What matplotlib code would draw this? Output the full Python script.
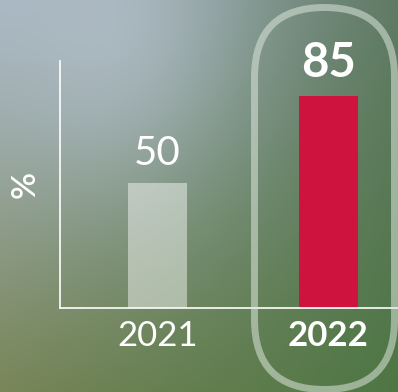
import numpy as np
import matplotlib
matplotlib.use("Agg")
import matplotlib.pyplot as plt
from matplotlib.patches import FancyBboxPatch

plt.rcParams['font.family'] = ['Lato', 'DejaVu Sans']

# data
years = ["2021", "2022"]
values = [50, 85]
bar_colors = [(1, 1, 1, 0.45), "#cf133f"]

fig = plt.figure(figsize=(3.98, 3.92), dpi=100)

# background gradient (grey-blue top left -> green bottom right)
yy, xx = np.mgrid[0:1:392j, 0:1:398j]
tl = np.array([165, 180, 193])
tr = np.array([96, 122, 100])
bl = np.array([120, 134, 88])
br = np.array([78, 118, 68])
img = (tl * ((1 - xx) * (1 - yy))[..., None] + tr * (xx * (1 - yy))[..., None]
       + bl * ((1 - xx) * yy)[..., None] + br * (xx * yy)[..., None])
glow = np.exp(-(((xx - 0.27) / 0.33) ** 2 + ((yy - 0.08) / 0.4) ** 2))
img = img + glow[..., None] * (np.array([182, 194, 206]) - img) * 0.7
bg = fig.add_axes([0, 0, 1, 1], zorder=-10)
bg.imshow(img / 255, aspect="auto", extent=[0, 1, 0, 1])
bg.axis("off")

# pill around 2022
pill = FancyBboxPatch((2.545, 0.025), 1.40, 3.82,
                      boxstyle="round,pad=0,rounding_size=0.70",
                      transform=fig.dpi_scale_trans, fill=False,
                      edgecolor=(0.86, 0.9, 0.86, 0.55), linewidth=5.0)
fig.patches.append(pill)

ax = fig.add_axes([60 / 398, 84 / 392, 338 / 398, 247 / 392])
ax.patch.set_alpha(0)
x = np.arange(len(years))
bars = ax.bar(x, values, width=0.35, color=bar_colors)
ax.set_xlim(-0.570, 1.406)
ax.set_ylim(0, 99)

for spine in ["top", "right"]:
    ax.spines[spine].set_visible(False)
for spine in ["left", "bottom"]:
    ax.spines[spine].set_color("white")
    ax.spines[spine].set_linewidth(1.2)

ax.set_yticks([])
ax.set_xticks(x)
ax.set_xticklabels(years, color="white", fontsize=25)
ax.get_xticklabels()[1].set_fontweight("bold")
ax.tick_params(axis="x", length=0, pad=9)

ax.set_ylabel("%", color="white", fontsize=24, fontweight="semibold", labelpad=14)

ax.annotate(str(values[0]), (x[0], values[0]), xytext=(0, 8),
            textcoords="offset points", ha="center", va="bottom",
            color="white", fontsize=29)
ax.annotate(str(values[1]), (x[1], values[1]), xytext=(0, 8),
            textcoords="offset points", ha="center", va="bottom",
            color="white", fontsize=34, fontweight="bold")

fig.savefig("out.png", dpi=100)
